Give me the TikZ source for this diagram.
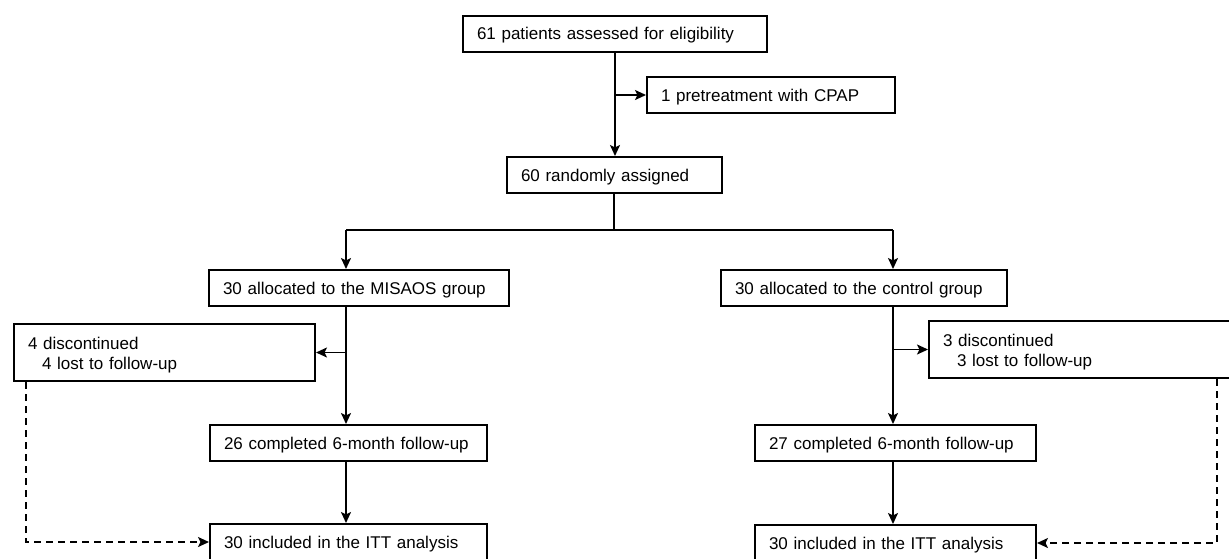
\documentclass[tikz,border=0pt]{standalone}
\usepackage{fontspec}
\setmainfont{Liberation Sans}
\usetikzlibrary{positioning,calc,arrows.meta}

\begin{document}
\begin{tikzpicture}[x=1pt, y=-1pt,
  box/.style = {draw, line width=2pt, anchor=west, inner xsep=14pt,
    inner ysep=0pt, minimum height=36pt, align=left, text depth=0pt,
    font=\fontsize{17}{20}\selectfont},
  twoline/.style = {box, text depth=, minimum height=57pt},
  arr/.style = {line width=1.9pt, -{Stealth[length=11pt,width=10pt,inset=2.5pt]}},
  dasharr/.style = {arr, dash pattern=on 7pt off 5pt}
  ]
  \clip (0,0) rectangle (1229,558);
  % main column
  \node[box, text width=276pt] (elig)     at (462,33.5)  {61 patients assessed for eligibility};
  \node[box, text width=220pt] (pretreat) at (646,95)    {1 pretreatment with CPAP};
  \node[box, text width=187pt] (random)   at (506,175)   {60 randomly assigned};
  % groups
  \node[box, text width=272pt] (misaos)  at (208,288) {30 allocated to the MISAOS group};
  \node[box, text width=258pt] (control) at (720,288) {30 allocated to the control group};
  \node[twoline, text width=273pt] (discL) at (13,352.5)
    {\rule{0pt}{18pt}4 discontinued\\\hspace*{14pt}4 lost to follow-up};
  \node[twoline, text width=274pt] (discR) at (928,349.5)
    {\rule{0pt}{18pt}3 discontinued\\\hspace*{14pt}3 lost to follow-up};
  \node[box, text width=249pt] (compL) at (209,443) {26 completed 6-month follow-up};
  \node[box, text width=253pt] (compR) at (754,443) {27 completed 6-month follow-up};
  \node[box, text width=249pt] (ittL)  at (209,542) {30 included in the ITT analysis};
  \node[box, text width=253pt] (ittR)  at (754,543) {30 included in the ITT analysis};

  \coordinate (split)  at (614,230);
  \coordinate (splitL) at (346,230);
  \coordinate (splitR) at (893,230);

  \draw[arr] (elig.south) -- (elig.south |- random.north);
  \draw[arr] (elig.south |- pretreat.west) -- (pretreat.west);
  \draw[line width=1.9pt] (split |- random.south) -- (split);
  \draw[line width=1.9pt] (splitL) -- (splitR);
  \draw[arr] (splitL) -- (splitL |- misaos.north);
  \draw[arr] (splitR) -- (splitR |- control.north);

  % left arm
  \draw[arr] (splitL |- misaos.south) -- (splitL |- compL.north);
  \draw[arr] (splitL |- discL.east) -- (discL.east);
  \draw[arr] (splitL |- compL.south) -- (splitL |- ittL.north);
  \draw[dasharr] ([xshift=13pt]discL.south west) |- (ittL.west);

  % right arm
  \draw[arr] (splitR |- control.south) -- (splitR |- compR.north);
  \draw[arr] (splitR |- discR.west) -- (discR.west);
  \draw[arr] (splitR |- compR.south) -- (splitR |- ittR.north);
  \draw[dasharr] ([xshift=-15pt]discR.south east) |- (ittR.east);
\end{tikzpicture}
\end{document}
